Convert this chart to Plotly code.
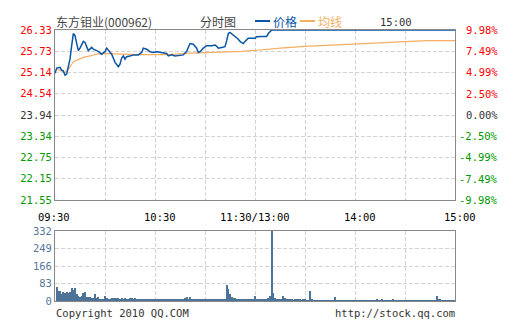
import plotly.graph_objects as go

# ---------------- data ----------------
prev_close = 23.94
# price line: minute offsets from 09:30 (11:30 == 13:00 == minute 120)
price_min = [0, 1, 3, 4, 5, 6, 7, 8, 9, 10, 11, 12, 13, 14, 15, 16, 17, 18, 19, 20,
             22, 23, 25, 26, 28, 30, 31, 32, 34, 35, 36, 38, 39, 40, 41, 42, 43, 45,
             47, 50, 52, 53, 55, 57, 59, 61, 63, 65, 67, 68, 70, 72, 75, 77, 79, 80,
             81, 83, 85, 86, 87, 89, 91, 94, 96, 97, 98, 100, 102, 103, 104, 105, 107,
             108, 110, 111, 113, 114, 115, 116, 120, 121, 124, 127, 128, 130, 240]
price_val = [25.11, 25.26, 25.28, 25.20, 25.18, 25.06, 25.09, 25.32, 25.51, 25.89, 26.23,
             26.17, 25.93, 25.75, 25.82, 25.91, 26.01, 25.98, 25.84, 25.75, 25.84, 25.79,
             25.75, 25.73, 25.65, 25.72, 25.82, 25.76, 25.65, 25.54, 25.42, 25.30, 25.37,
             25.54, 25.60, 25.51, 25.58, 25.60, 25.63, 25.63, 25.70, 25.82, 25.79, 25.72,
             25.70, 25.72, 25.70, 25.67, 25.67, 25.60, 25.63, 25.60, 25.63, 25.63, 25.73,
             25.84, 25.95, 25.93, 25.82, 25.70, 25.72, 25.82, 25.89, 25.89, 25.91, 25.87,
             25.82, 25.84, 25.86, 26.03, 26.23, 26.26, 26.19, 26.14, 26.07, 26.01, 25.95,
             26.01, 26.07, 26.10, 26.10, 26.14, 26.15, 26.15, 26.23, 26.33, 26.33]

avg_min = [1, 3, 6, 9, 11, 14, 17, 21, 25, 29, 35, 40, 50, 68, 78, 93, 104, 112, 121,
           131, 137, 150, 163, 177, 190, 205, 223, 240]
avg_val = [25.23, 25.20, 25.13, 25.29, 25.44, 25.51, 25.56, 25.60, 25.65, 25.67, 25.67,
           25.65, 25.64, 25.64, 25.67, 25.69, 25.70, 25.73, 25.76, 25.81, 25.83, 25.87,
           25.90, 25.94, 25.97, 26.00, 26.03, 26.03]

# volume per minute (index = minute from 09:30)
volume = [0, 67, 48, 46, 35, 43, 38, 43, 40, 43, 60, 51, 60, 35, 22, 19, 22, 38, 41, 19,
          19, 19, 13, 16, 32, 16, 19, 10, 6, 11, 22, 16, 11, 10, 14, 13, 16, 16, 16, 11,
          13, 10, 13, 11, 8, 13, 13, 11, 13, 8, 7, 7, 6, 8, 7, 6, 7, 6, 5, 6,
          6, 7, 5, 6, 6, 5, 7, 6, 5, 6, 5, 6, 8, 7, 8, 6, 8, 11, 13, 19,
          11, 19, 10, 8, 7, 8, 7, 8, 7, 8, 7, 8, 7, 11, 8, 7, 8, 10, 7, 8,
          7, 8, 7, 75, 57, 32, 19, 16, 16, 11, 8, 8, 10, 8, 7, 8, 10, 6, 11, 8,
          22, 8, 7, 8, 7, 8, 10, 8, 16, 22, 332, 40, 16, 11, 11, 6, 6, 22, 16, 6,
          8, 8, 5, 4, 5, 8, 5, 8, 4, 8, 5, 4, 3, 46, 8, 3, 3, 3, 3, 3,
          3, 3, 3, 3, 3, 3, 3, 3, 19, 3, 3, 3, 3, 3, 3, 3, 3, 3, 3, 3,
          3, 3, 3, 3, 3, 3, 3, 3, 3, 3, 3, 3, 3, 8, 3, 3, 8, 3, 3, 3,
          3, 3, 3, 6, 3, 3, 3, 3, 3, 3, 3, 3, 3, 3, 3, 3, 3, 3, 3, 3,
          3, 3, 3, 3, 3, 3, 3, 3, 3, 22, 8, 8, 3, 3, 3, 3, 3, 3, 3, 3, 3]

price_ticks = [26.33, 25.73, 25.14, 24.54, 23.94, 23.34, 22.75, 22.15, 21.55]
pct_labels = ["9.98%", "7.49%", "4.99%", "2.50%", "0.00%", "-2.50%", "-4.99%", "-7.49%", "-9.98%"]
vol_ticks = [0, 83, 166, 249, 332]
time_ticks = [0, 60, 120, 180, 240]
time_labels = ["09:30", "10:30", "11:30/13:00", "14:00", "15:00"]
time_shift = [-1, 5, 0, 5, 5]
grid_minutes = [0, 30, 60, 90, 120, 150, 180, 210, 240]

# ---------------- styles ----------------
RED, GREEN, GRAY = "#FF0000", "#009900", "#333333"
PRICE_C, AVG_C, VOL_C = "#0A55A6", "#F5AE62", "#4E7399"
MONO = "DejaVu Sans Mono"
CJK = "Noto Sans CJK SC"
GRID = "#D3D3D3"
BORDER = "#888888"

W, H = 505, 330
L, R, T, B = 55, 50, 30, 29
PW, PH = W - L - R, H - T - B


def px(xp):
    return (xp - L) / PW


def py(yp):
    return (H - B - yp) / PH


def col(v):
    return RED if v > prev_close else (GREEN if v < prev_close else GRAY)


fig = go.Figure()
fig.add_trace(go.Scatter(x=avg_min, y=avg_val, mode="lines", line=dict(color=AVG_C, width=1.2),
                         xaxis="x", yaxis="y", hoverinfo="skip"))
fig.add_trace(go.Scatter(x=price_min, y=price_val, mode="lines", line=dict(color=PRICE_C, width=1.5),
                         xaxis="x", yaxis="y", hoverinfo="skip"))
fig.add_trace(go.Bar(x=list(range(len(volume))), y=volume, width=0.75, marker=dict(color=VOL_C, line=dict(width=0)),
                     xaxis="x2", yaxis="y2", hoverinfo="skip"))

ax_common = dict(showline=True, linecolor=BORDER, linewidth=1, mirror=True, zeroline=False,
                 showgrid=True, gridcolor=GRID, griddash="4px,2px", gridwidth=1, ticks="",
                 layer="below traces", fixedrange=True)

main_bottom = py(200)
vol_top = py(231)

fig.update_layout(
    width=W, height=H, margin=dict(l=L, r=R, t=T, b=B),
    paper_bgcolor="white", plot_bgcolor="white", showlegend=False, bargap=0,
    xaxis=dict(domain=[0, 1], range=[0, 240], anchor="y", tickvals=grid_minutes,
               showticklabels=False, **ax_common),
    yaxis=dict(domain=[main_bottom, 1], range=[21.55, 26.33], anchor="x", tickvals=price_ticks,
               ticktext=[f'<span style="color:{col(v)}">{v:.2f}</span>' for v in price_ticks],
               tickfont=dict(family=MONO, size=10.5), **ax_common),
    xaxis2=dict(domain=[0, 1], range=[0, 240], anchor="y2", tickvals=grid_minutes,
                showticklabels=False, **ax_common),
    yaxis2=dict(domain=[0, vol_top], range=[0, 332], anchor="x2", tickvals=vol_ticks,
                tickfont=dict(family=MONO, size=10.5, color="#557799"), **ax_common),
)

ann = []
# right percentage labels
for v, t in zip(price_ticks, pct_labels):
    ann.append(dict(x=px(500), y=v, xref="paper", yref="y", text=t, showarrow=False,
                    xanchor="right", yanchor="middle", font=dict(family=MONO, size=10.5, color=col(v))))
# time labels
for m, t, s in zip(time_ticks, time_labels, time_shift):
    ann.append(dict(x=m, y=py(216.5), xref="x", yref="paper", text=t, showarrow=False, xshift=s,
                    xanchor="center", yanchor="middle", font=dict(family=MONO, size=10.5, color="#000000")))
# header
ann.append(dict(x=px(54), y=py(21), xref="paper", yref="paper", text="东方钼业(000962)", showarrow=False,
                xanchor="left", yanchor="middle", font=dict(family=CJK, size=12, color="#444444")))
ann.append(dict(x=px(217.5), y=py(21), xref="paper", yref="paper", text="分时图", showarrow=False,
                xanchor="center", yanchor="middle", font=dict(family=CJK, size=12, color="#444444")))
ann.append(dict(x=px(271), y=py(21), xref="paper", yref="paper", text="价格", showarrow=False,
                xanchor="left", yanchor="middle", font=dict(family=CJK, size=12, color=PRICE_C)))
ann.append(dict(x=px(316), y=py(21), xref="paper", yref="paper", text="均线", showarrow=False,
                xanchor="left", yanchor="middle", font=dict(family=CJK, size=12, color=AVG_C)))
ann.append(dict(x=px(396), y=py(22), xref="paper", yref="paper", text="15:00", showarrow=False,
                xanchor="center", yanchor="middle", font=dict(family=MONO, size=10.5, color="#333333")))
# footer
ann.append(dict(x=px(54), y=py(313), xref="paper", yref="paper", text="Copyright 2010 QQ.COM", showarrow=False,
                xanchor="left", yanchor="middle", font=dict(family=MONO, size=10.5, color="#333333")))
ann.append(dict(x=px(457), y=py(313), xref="paper", yref="paper", text="http://stock.qq.com", showarrow=False,
                xanchor="right", yanchor="middle", font=dict(family=MONO, size=10.5, color="#333333")))
fig.update_layout(annotations=ann)

# legend swatches
fig.add_shape(type="line", xref="paper", yref="paper", x0=px(255), x1=px(270), y0=py(21), y1=py(21),
              line=dict(color=PRICE_C, width=2))
fig.add_shape(type="line", xref="paper", yref="paper", x0=px(300), x1=px(315), y0=py(21), y1=py(21),
              line=dict(color=AVG_C, width=2))

fig.write_html("out.html", config={"displayModeBar": False})
